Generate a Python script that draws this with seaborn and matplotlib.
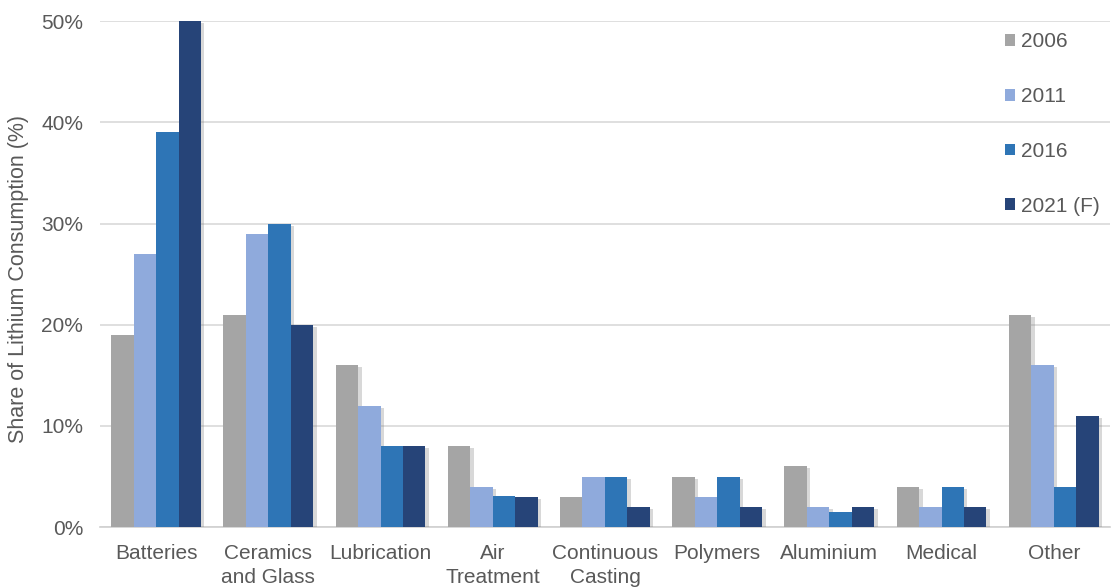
import matplotlib
matplotlib.use("Agg")
import matplotlib.pyplot as plt
import matplotlib.patheffects as pe
from matplotlib.ticker import FixedLocator, PercentFormatter
import seaborn as sns
import pandas as pd
import numpy as np

categories = ["Batteries", "Ceramics\nand Glass", "Lubrication", "Air\nTreatment",
              "Continuous\nCasting", "Polymers", "Aluminium", "Medical", "Other"]
years = ["2006", "2011", "2016", "2021 (F)"]
v2006 = [19, 21, 16, 8, 3, 5, 6, 4, 21]
v2011 = [27, 29, 12, 4, 5, 3, 2, 2, 16]
v2016 = [39, 30, 8, 3.1, 5, 5, 1.5, 4, 4]
v2021 = [50, 20, 8, 3, 2, 2, 2, 2, 11]
colors = ["#A5A5A5", "#8FAADC", "#2E75B6", "#264478"]

rows = []
for yr, vals in zip(years, [v2006, v2011, v2016, v2021]):
    for c, v in zip(categories, vals):
        rows.append({"Category": c, "Year": yr, "Share": v})
df = pd.DataFrame(rows)

sns.set_theme(style="white")
plt.rcParams['font.family'] = ['Liberation Sans', 'DejaVu Sans']
text_color = "#595959"
FS = 15

fig = plt.figure(figsize=(11.11, 5.87), dpi=100)
ax = fig.add_axes([0.09, 0.102, 0.909, 0.862])

sns.barplot(data=df, x="Category", y="Share", hue="Year", palette=colors,
            order=categories, hue_order=years, width=0.8, saturation=1,
            ax=ax, zorder=3)

for p in ax.patches:
    p.set_linewidth(0)
    p.set_path_effects([pe.SimplePatchShadow(offset=(2.5, -1.5), shadow_rgbFace="#7f7f7f", alpha=0.3),
                        pe.Normal()])

ax.set_ylim(0, 50)
ax.set_xlim(-0.5, len(categories) - 0.5)
ax.yaxis.set_major_locator(FixedLocator([0, 10, 20, 30, 40, 50]))
ax.yaxis.set_major_formatter(PercentFormatter(decimals=0))
ax.grid(axis="y", color="#D9D9D9", linewidth=1.2, zorder=0)
ax.set_axisbelow(True)

for s in ["top", "right", "left"]:
    ax.spines[s].set_visible(False)
ax.spines["bottom"].set_color("#D0D0D0")
ax.spines["bottom"].set_linewidth(1.2)

ax.tick_params(axis="x", which="major", length=0, colors=text_color, labelsize=FS, pad=12)
ax.xaxis.set_minor_locator(FixedLocator(np.arange(-0.5, len(categories), 1.0)))
ax.tick_params(axis="x", which="minor", length=6, width=1.2, color="#C8C8C8", direction="out")
ax.tick_params(axis="y", length=0, colors=text_color, labelsize=FS, pad=12)
for lab in ax.get_xticklabels():
    lab.set_linespacing(1.36)

ax.set_xlabel("")
ax.set_ylabel("Share of Lithium Consumption (%)", color=text_color, fontsize=15.5)
ax.yaxis.set_label_coords(-0.070, 0.49)

leg = ax.legend(loc="upper left", bbox_to_anchor=(0.9046, 0.945), bbox_transform=fig.transFigure,
                frameon=False, borderaxespad=0, borderpad=0,
                handlelength=0.5, handleheight=0.5, handletextpad=0.25,
                labelspacing=1.72, fontsize=FS)
for t in leg.get_texts():
    t.set_color(text_color)
for h in leg.legend_handles:
    h.set_path_effects([])

fig.savefig("out.png", dpi=100)
